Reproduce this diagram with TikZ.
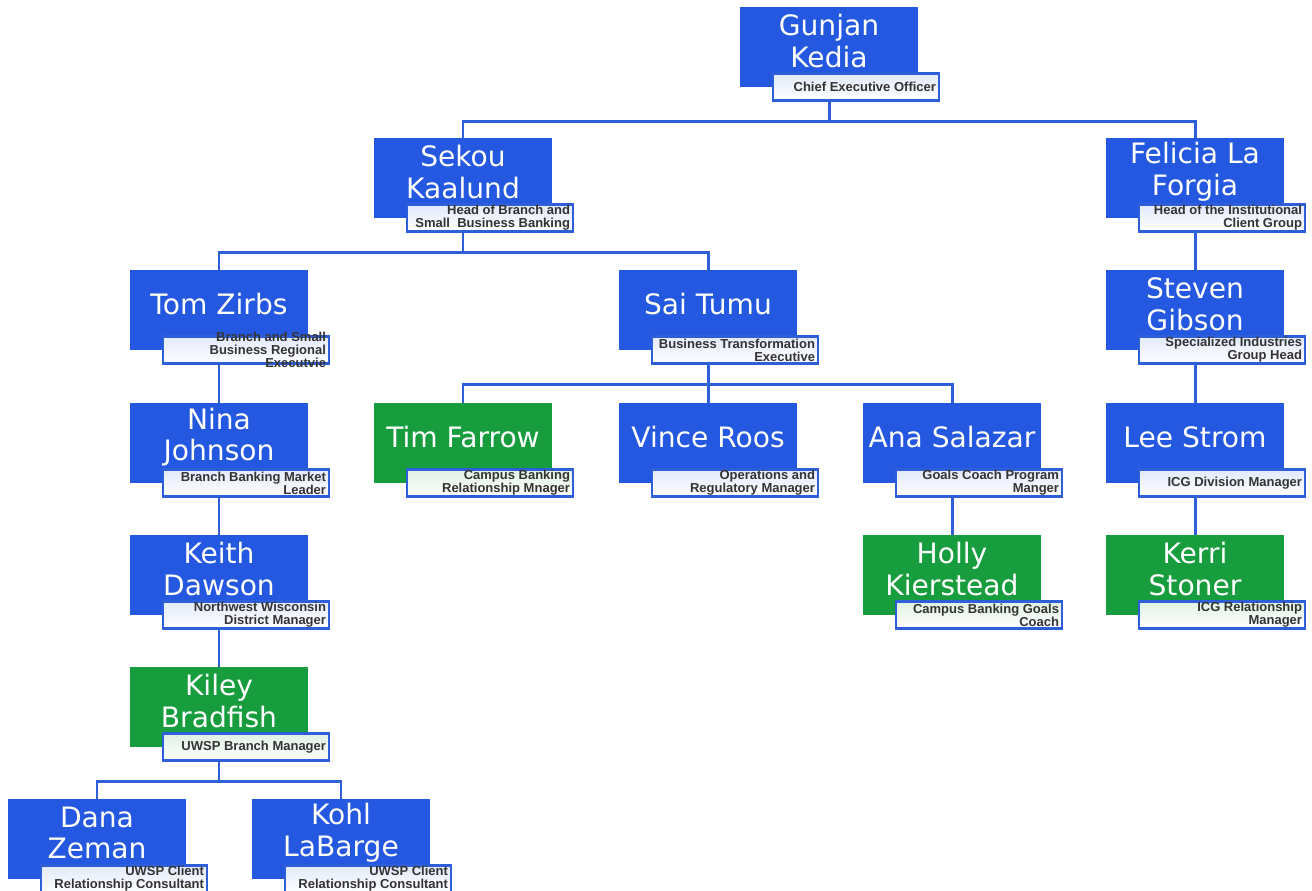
\documentclass[tikz,border=0pt]{standalone}
\usepackage{fontspec}
\newfontfamily\namefont{DejaVu Sans}
\newfontfamily\rolefont{Liberation Sans}
\usetikzlibrary{positioning,calc}
\definecolor{boxblue}{HTML}{2458E0}
\definecolor{boxgreen}{HTML}{189D3E}
\definecolor{linkblue}{HTML}{2F5FD8}
\definecolor{tintblue}{HTML}{E2E9FB}
\definecolor{tintgreen}{HTML}{E0F1E5}
\definecolor{rolegray}{HTML}{333333}

\begin{document}
\begin{tikzpicture}[x=0.02cm,y=-0.02cm,
  personname/.style={inner sep=0pt,align=center,text=white,yshift=0.12cm,
                     font=\namefont\fontsize{16}{18}\selectfont},
  person/.style={rectangle,fill=boxblue,minimum width=3.56cm,minimum height=1.6cm,
                 inner sep=0pt,label={[personname]center:#1}},
  hire/.style={person=#1,fill=boxgreen},
  role/.style={rectangle,draw=linkblue,line width=1.3pt,top color=tintblue,
               bottom color=white,minimum width=3.32cm,minimum height=0.54cm,
               anchor=north east,inner sep=0pt},
  rolegreen/.style={role,top color=tintgreen},
  roletext/.style={anchor=east,inner sep=0pt,align=right,text=rolegray,
                   font=\rolefont\bfseries\fontsize{7.4}{7.4}\selectfont},
  link/.style={draw=linkblue,line width=1.7pt}]

\useasboundingbox (0,0) rectangle (1312,890);

% people
\node[person={Gunjan\\Kedia}] (gunjan) at (829,47) {};
\node[person={Sekou\\Kaalund}] (sekou) at (463,178) {};
\node[person={Felicia La\\Forgia}] (felicia) at (1195,178) {};
\node[person={Tom Zirbs}] (tom) at (219,310) {};
\node[person={Sai Tumu}] (sai) at (708,310) {};
\node[person={Steven\\Gibson}] (steven) at (1195,310) {};
\node[person={Nina\\Johnson}] (nina) at (219,443) {};
\node[hire={Tim Farrow}] (tim) at (463,443) {};
\node[person={Vince Roos}] (vince) at (708,443) {};
\node[person={Ana Salazar}] (ana) at (952,443) {};
\node[person={Lee Strom}] (lee) at (1195,443) {};
\node[person={Keith\\Dawson}] (keith) at (219,575) {};
\node[hire={Holly\\Kierstead}] (holly) at (952,575) {};
\node[hire={Kerri\\Stoner}] (kerri) at (1195,575) {};
\node[hire={Kiley\\Bradfish}] (kiley) at (219,707) {};
\node[person={Dana\\Zeman}] (dana) at (97,839) {};
\node[person={Kohl\\LaBarge}] (kohl) at (341,839) {};

% title boxes
\node[role] (gunjan-r) at ([shift={(22,-15)}]gunjan.south east) {};
\node[role] (sekou-r) at ([shift={(22,-15)}]sekou.south east) {};
\node[role] (felicia-r) at ([shift={(22,-15)}]felicia.south east) {};
\node[role] (tom-r) at ([shift={(22,-15)}]tom.south east) {};
\node[role] (sai-r) at ([shift={(22,-15)}]sai.south east) {};
\node[role] (steven-r) at ([shift={(22,-15)}]steven.south east) {};
\node[role] (nina-r) at ([shift={(22,-15)}]nina.south east) {};
\node[rolegreen] (tim-r) at ([shift={(22,-15)}]tim.south east) {};
\node[role] (vince-r) at ([shift={(22,-15)}]vince.south east) {};
\node[role] (ana-r) at ([shift={(22,-15)}]ana.south east) {};
\node[role] (lee-r) at ([shift={(22,-15)}]lee.south east) {};
\node[role] (keith-r) at ([shift={(22,-15)}]keith.south east) {};
\node[rolegreen] (holly-r) at ([shift={(22,-15)}]holly.south east) {};
\node[rolegreen] (kerri-r) at ([shift={(22,-15)}]kerri.south east) {};
\node[rolegreen] (kiley-r) at ([shift={(22,-15)}]kiley.south east) {};
\node[role] (dana-r) at ([shift={(22,-15)}]dana.south east) {};
\node[role] (kohl-r) at ([shift={(22,-15)}]kohl.south east) {};

\node[roletext] (gunjan-t) at ([xshift=-0.08cm]gunjan-r.east) {Chief Executive Officer};
\node[roletext] (sekou-t) at ([xshift=-0.08cm]sekou-r.east) {Head of Branch and\\Small\ \ Business Banking};
\node[roletext] (felicia-t) at ([xshift=-0.08cm]felicia-r.east) {Head of the Institutional\\Client Group};
\node[roletext] (tom-t) at ([xshift=-0.08cm]tom-r.east) {Branch and Small\\Business Regional\\Executvie};
\node[roletext] (sai-t) at ([xshift=-0.08cm]sai-r.east) {Business Transformation\\Executive};
\node[roletext] (steven-t) at ([xshift=-0.08cm]steven-r.east) {Specialized Industries\\Group Head};
\node[roletext] (nina-t) at ([xshift=-0.08cm]nina-r.east) {Branch Banking Market\\Leader};
\node[roletext] (tim-t) at ([xshift=-0.08cm]tim-r.east) {Campus Banking\\Relationship Mnager};
\node[roletext] (vince-t) at ([xshift=-0.08cm]vince-r.east) {Operations and\\Regulatory Manager};
\node[roletext] (ana-t) at ([xshift=-0.08cm]ana-r.east) {Goals Coach Program\\Manger};
\node[roletext] (lee-t) at ([xshift=-0.08cm]lee-r.east) {ICG Division Manager};
\node[roletext] (keith-t) at ([xshift=-0.08cm]keith-r.east) {Northwest Wisconsin\\District Manager};
\node[roletext] (holly-t) at ([xshift=-0.08cm]holly-r.east) {Campus Banking Goals\\Coach};
\node[roletext] (kerri-t) at ([xshift=-0.08cm]kerri-r.east) {ICG Relationship\\Manager};
\node[roletext] (kiley-t) at ([xshift=-0.08cm]kiley-r.east) {UWSP Branch Manager};
\node[roletext] (dana-t) at ([xshift=-0.08cm]dana-r.east) {UWSP Client\\Relationship Consultant};
\node[roletext] (kohl-t) at ([xshift=-0.08cm]kohl-r.east) {UWSP Client\\Relationship Consultant};

% reporting lines
\foreach \p/\c in {gunjan/sekou,gunjan/felicia,sekou/tom,sekou/sai,felicia/steven,
                   tom/nina,nina/keith,keith/kiley,kiley/dana,kiley/kohl,
                   sai/tim,sai/vince,sai/ana,ana/holly,steven/lee,lee/kerri}
  \draw[link] (\p.south |- \p-r.south) -- ++(0,20) -| (\c.north);
\end{tikzpicture}
\end{document}
